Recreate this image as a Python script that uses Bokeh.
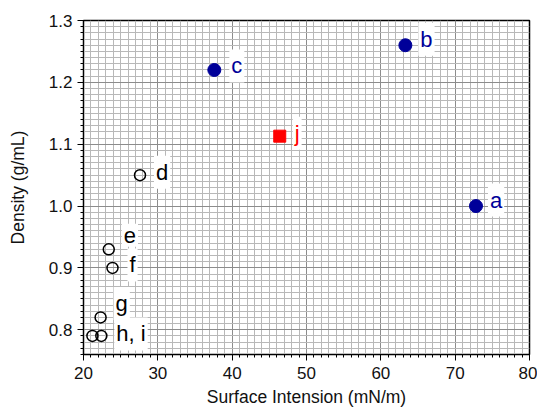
from bokeh.plotting import figure
from bokeh.models import ColumnDataSource, Range1d, NumeralTickFormatter, FixedTicker
from bokeh.core.properties import value
from bokeh.embed import file_html
from bokeh.resources import INLINE

# ---- data ----
filled_names = ["a", "b", "c"]
filled_tension = [72.8, 63.3, 37.6]
filled_density = [1.00, 1.26, 1.22]

square_names = ["j"]
square_tension = [46.4]
square_density = [1.113]

open_names = ["d", "e", "f", "g", "h", "i"]
open_tension = [27.6, 23.4, 23.9, 22.3, 21.2, 22.4]
open_density = [1.05, 0.93, 0.90, 0.82, 0.79, 0.79]

label_texts = ["a", "b", "c", "j", "d", "e", "f", "g", "h, i"]
label_tension = [72.8, 63.3, 37.6, 46.4, 27.6, 23.4, 23.9, 22.3, 22.4]
label_density = [1.00, 1.26, 1.22, 1.113, 1.05, 0.93, 0.90, 0.82, 0.79]

x_ticks = [20, 30, 40, 50, 60, 70, 80]
x_minor = list(range(20, 81))
y_ticks = [0.8, 0.9, 1.0, 1.1, 1.2, 1.3]
y_minor = [round(0.76 + 0.01 * k, 2) for k in range(55)]

x_title = "Surface Intension (mN/m)"
y_title = "Density (g/mL)"

# ---- styles ----
BLUE = "#000099"
label_colors = [BLUE, BLUE, BLUE, "#ff0000", "black", "black", "black", "black", "black"]
label_dx = [12, 13, 15, 13, 14, 13, 15, 13, 13]
label_dy = [-6, -6, -4, -3, -3, -14, -3, -14, -2]
FONT = "Liberation Sans"

p = figure(width=537, height=409, output_backend="svg", toolbar_location=None,
           x_range=Range1d(20, 80), y_range=Range1d(0.76, 1.3),
           min_border_left=83, min_border_right=8, min_border_top=20, min_border_bottom=55,
           x_axis_label=x_title, y_axis_label=y_title)
p.title.visible = False

p.background_fill_color = "white"
p.border_fill_color = "white"
p.outline_line_color = "black"
p.outline_line_width = 1.5

for ax, ticks, minor in ((p.xaxis[0], x_ticks, x_minor), (p.yaxis[0], y_ticks, y_minor)):
    ax.ticker = FixedTicker(ticks=ticks, minor_ticks=minor)
    ax.axis_line_color = "black"
    ax.major_tick_line_color = "black"
    ax.minor_tick_line_color = "black"
    ax.major_tick_in = 0
    ax.minor_tick_in = 0
    ax.major_tick_out = 6
    ax.minor_tick_out = 3
    ax.major_label_text_font = FONT
    ax.major_label_text_font_size = "17px"
    ax.major_label_text_color = "#111111"
    ax.axis_label_text_font = FONT
    ax.axis_label_text_font_size = "17.5px"
    ax.axis_label_text_font_style = "normal"
    ax.axis_label_text_color = "#111111"

p.yaxis[0].formatter = NumeralTickFormatter(format="0.0")
p.xaxis[0].major_label_standoff = 6
p.xaxis[0].axis_label_standoff = 5
p.yaxis[0].major_label_standoff = 5
p.yaxis[0].axis_label_standoff = 18

for g in (p.xgrid[0], p.ygrid[0]):
    g.grid_line_color = "#8c8c8c"
    g.grid_line_width = 1
    g.minor_grid_line_color = "#b8b8b8"
    g.minor_grid_line_width = 1
    g.level = "underlay"

p.scatter(open_tension, open_density, size=11, marker="circle", fill_color=None,
          line_color="black", line_width=1.5)
p.scatter(filled_tension, filled_density, size=13, marker="circle", fill_color=BLUE,
          line_color=BLUE)
p.scatter(square_tension, square_density, size=12, marker="square", fill_color="#ff0000",
          line_color="#ff0000")

lsrc = ColumnDataSource(dict(x=label_tension, y=label_density, t=label_texts,
                             c=label_colors, dx=label_dx, dy=label_dy))
p.text(x="x", y="y", text="t", source=lsrc, text_color="c", x_offset="dx", y_offset="dy",
       text_font=value(FONT), text_font_size="22px", text_align="left",
       text_baseline="middle", background_fill_color="white", padding=[2, 4])

open("out.html", "w").write(file_html(p, INLINE))
